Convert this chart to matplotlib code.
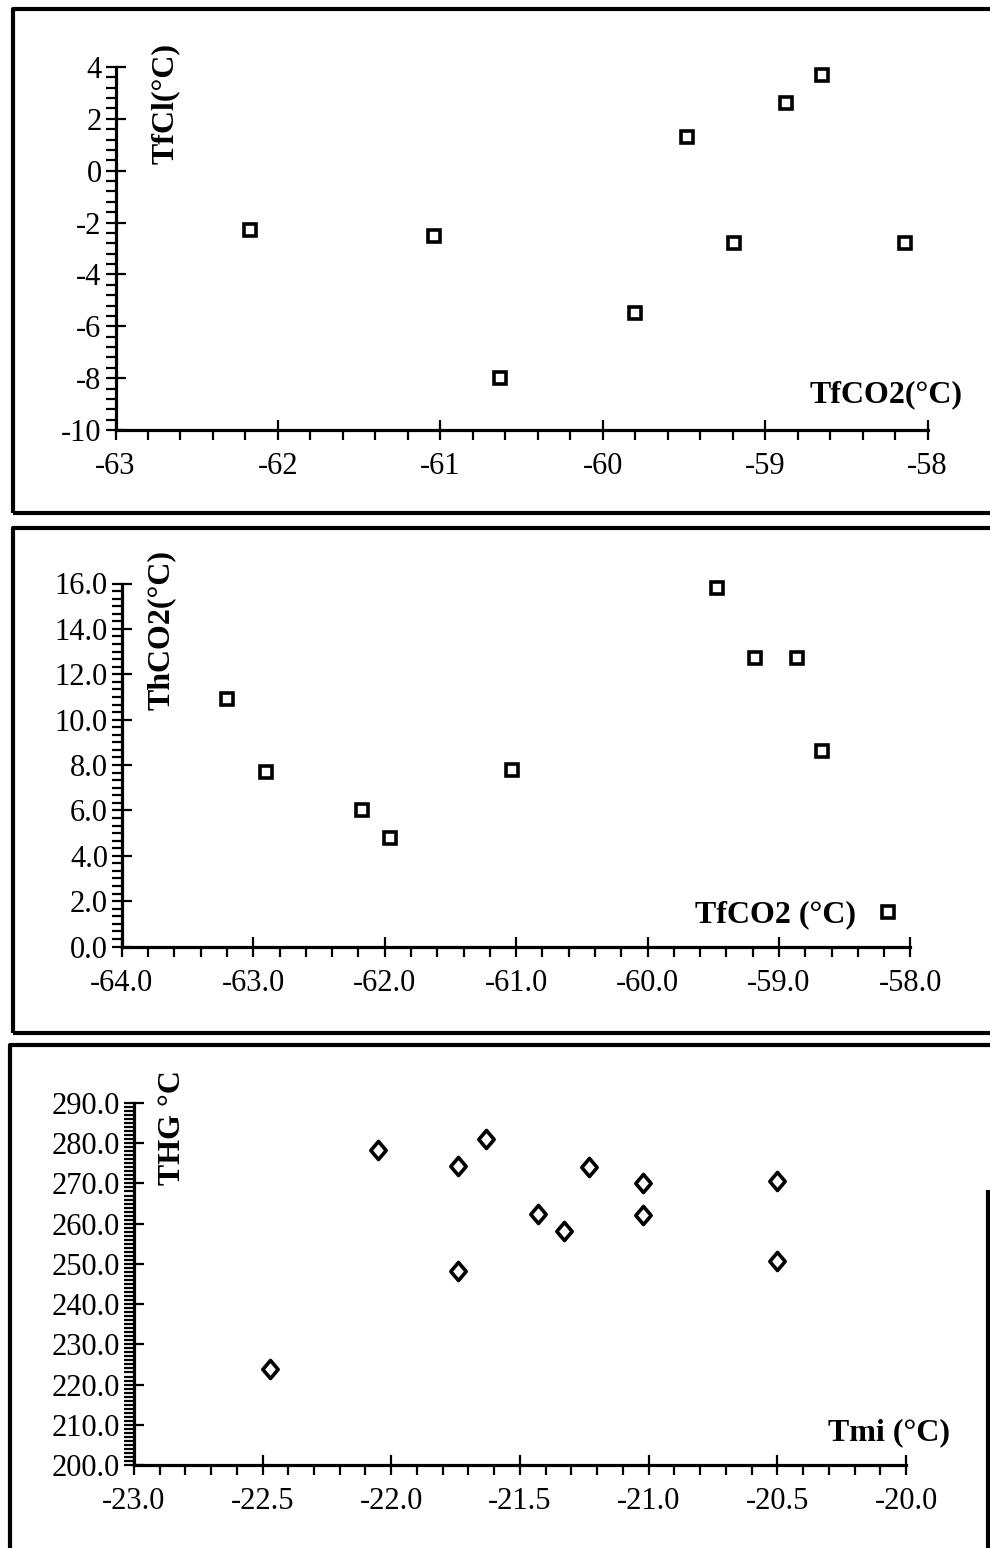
import matplotlib
matplotlib.use("Agg")
import matplotlib.pyplot as plt
from matplotlib.lines import Line2D
from matplotlib.path import Path
from matplotlib.ticker import MultipleLocator, FormatStrFormatter

plt.rcParams["font.family"] = ["Liberation Serif", "DejaVu Serif"]
plt.rcParams["axes.unicode_minus"] = False

# ─── Data ─────────────────────────────────────────────────────────
# (a) TfCl vs TfCO2
tfco2_a = [-62.17, -61.04, -60.63, -59.80, -59.48, -59.19, -58.87, -58.65, -58.14]
tfcl_a = [-2.3, -2.5, -8.0, -5.5, 1.3, -2.8, 2.6, 3.7, -2.8]

# (b) ThCO2 vs TfCO2
tfco2_b = [-63.20, -62.90, -62.17, -61.96, -61.03, -59.47, -59.18, -58.86, -58.67, -58.17]
thco2_b = [10.9, 7.7, 6.0, 4.8, 7.8, 15.8, 12.7, 12.7, 8.6, 1.5]

# (c) THG vs Tmi
tmi_c = [-22.47, -22.05, -21.74, -21.74, -21.63, -21.43, -21.33, -21.23, -21.02, -21.02, -20.50, -20.50]
thg_c = [223.8, 278.4, 274.4, 248.3, 281.0, 262.4, 258.2, 274.2, 270.1, 262.2, 270.6, 250.6]

W, H = 990, 1548
fig = plt.figure(figsize=(W / 100, H / 100), dpi=100)


def fx(px):
    return px / W


def fy(py):
    return 1 - py / H


def make_axes(x0, x1, y0, y1):
    # pixel box (left, right, top, bottom) -> axes
    return fig.add_axes([fx(x0), fy(y1), fx(x1) - fx(x0), fy(y0) - fy(y1)])


def style(ax, xlim, ylim, xmaj, xmin, ymaj, ymin, xfmt, yfmt, fs=22):
    ax.set_xlim(*xlim)
    ax.set_ylim(*ylim)
    for s in ["top", "right"]:
        ax.spines[s].set_visible(False)
    for s in ["left", "bottom"]:
        ax.spines[s].set_linewidth(2.3)
    ax.xaxis.set_major_locator(MultipleLocator(xmaj))
    ax.xaxis.set_minor_locator(MultipleLocator(xmin))
    ax.yaxis.set_major_locator(MultipleLocator(ymaj))
    ax.yaxis.set_minor_locator(MultipleLocator(ymin))
    ax.xaxis.set_major_formatter(FormatStrFormatter(xfmt))
    ax.yaxis.set_major_formatter(FormatStrFormatter(yfmt))
    ax.tick_params(which="major", direction="inout", length=14, width=1.6, labelsize=fs)
    ax.tick_params(which="minor", direction="out", length=7, width=1.6)
    ax.tick_params(axis="x", which="major", pad=9)
    ax.tick_params(axis="y", which="major", pad=3)
    ax.patch.set_alpha(0)


# ===== (a) =====
ax1 = make_axes(115.5, 927.5, 67, 430)
style(ax1, (-63, -58), (-10, 4), 1, 0.2, 2, 0.4, "%d", "%d")
ax1.plot(tfco2_a, tfcl_a, ls="none", marker="s", ms=9, mfc="white",
         mec="black", mew=2.6, clip_on=False)
fig.text(fx(165), fy(104), "TfCl(°C)", rotation=90, ha="center", va="center",
         fontsize=23, fontweight="bold")
fig.text(fx(963), fy(395), "TfCO2(°C)", ha="right", va="center",
         fontsize=23, fontweight="bold")

# ===== (b) =====
ax2 = make_axes(121.8, 910.4, 583.5, 946.5)
style(ax2, (-64, -58), (0, 16), 1, 0.2, 2, 1 / 3, "%.1f", "%.1f")
ax2.plot(tfco2_b, thco2_b, ls="none", marker="s", ms=9, mfc="white",
         mec="black", mew=2.6, clip_on=False)
fig.text(fx(161), fy(630), "ThCO2(°C)", rotation=90, ha="center", va="center",
         fontsize=23, fontweight="bold")
fig.text(fx(856), fy(915), "TfCO2 (°C)", ha="right", va="center",
         fontsize=23, fontweight="bold")

# ===== (c) =====
ax3 = make_axes(133.8, 906, 1103, 1465)
style(ax3, (-23, -20), (200, 290), 0.5, 0.1, 10, 1, "%.1f", "%.1f")
diamond = Path([(0, 1), (0.85, 0), (0, -1), (-0.85, 0), (0, 1)],
               [Path.MOVETO, Path.LINETO, Path.LINETO, Path.LINETO, Path.CLOSEPOLY])
ax3.plot(tmi_c, thg_c, ls="none", marker=diamond, ms=13, mfc="white",
         mec="black", mew=2.6, clip_on=False)
fig.text(fx(172), fy(1128), "THG °C", rotation=90, ha="center", va="center",
         fontsize=23, fontweight="bold")
fig.text(fx(950), fy(1433), "Tmi (°C)", ha="right", va="center",
         fontsize=23, fontweight="bold")

# ─── Panel frames (scan borders) ──────────────────────────────────
frame_lw = 3.0


def frame_line(xs, ys):
    fig.add_artist(Line2D([fx(x) for x in xs], [fy(y) for y in ys],
                          color="black", lw=frame_lw, solid_capstyle="butt"))


# panel 1 box
frame_line([13, 13, 995], [513, 9, 9])
frame_line([13, 995], [513, 513])
# panel 2 box
frame_line([13, 13, 995], [1033, 528, 528])
frame_line([13, 995], [1033, 1033])
# panel 3 box
frame_line([10, 10, 995], [1555, 1045, 1045])
frame_line([988, 988], [1190, 1555])

fig.savefig("out.png", dpi=100)
